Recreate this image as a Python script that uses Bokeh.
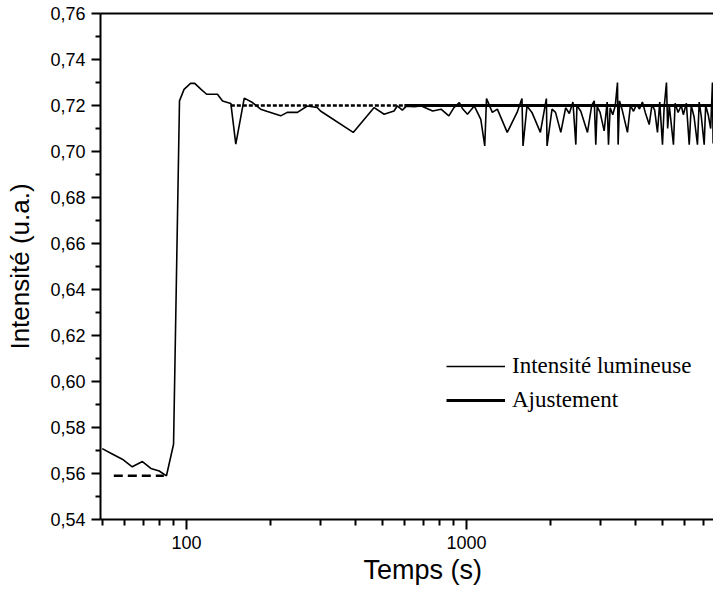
from bokeh.plotting import figure
from bokeh.models import (FixedTicker, CustomJSTickFormatter, LogAxis, Legend,
                          LegendItem, Range1d, Title)
from bokeh.embed import file_html
from bokeh.resources import INLINE

# ---- data ----
time_s = [50, 54.5, 59, 64, 69.6, 74.6, 79.9, 84.8, 89.9, 94.4, 98, 103.6, 107,
          112.5, 118, 129, 134.5, 144, 150, 160.8, 172, 184, 194.6, 217, 229,
          249, 270, 293, 301, 394, 468, 508, 551, 566, 590, 610, 650, 690, 757,
          811, 865, 902, 943, 967, 1008, 1066, 1125, 1162, 1179, 1237, 1289,
          1398, 1516, 1578, 1592, 1645, 1713, 1836, 1929, 1940, 2021, 2080,
          2172, 2260, 2330, 2400, 2458, 2480, 2560, 2705, 2800, 2860, 2896,
          2930, 3000, 3103, 3180, 3215, 3260, 3330, 3400, 3462, 3480, 3520,
          3600, 3758, 3850, 3950, 4050, 4150, 4250, 4350, 4494, 4600, 4700,
          4810, 4900, 5012, 5080, 5179, 5230, 5300, 5485, 5560, 5700, 5850,
          5950, 6100, 6245, 6350, 6500, 6683, 6780, 6900, 7063, 7150, 7300,
          7450, 7560, 7600]
intensity = [0.5708, 0.5684, 0.5662, 0.5629, 0.5652, 0.5622, 0.5611, 0.5590,
             0.5727, 0.7220, 0.7270, 0.7297, 0.7296, 0.7271, 0.7249, 0.7249,
             0.7220, 0.7209, 0.7032, 0.7232, 0.7213, 0.7184, 0.7174, 0.7155,
             0.7170, 0.7170, 0.7198, 0.7191, 0.7176, 0.7083, 0.7191, 0.7162,
             0.7176, 0.7198, 0.7180, 0.7197, 0.7195, 0.7198, 0.7176, 0.7184,
             0.7155, 0.7191, 0.7213, 0.7187, 0.7162, 0.7198, 0.7140, 0.7024,
             0.7230, 0.7170, 0.7184, 0.7083, 0.7170, 0.7230, 0.7024, 0.7198,
             0.7170, 0.7083, 0.7230, 0.7024, 0.7184, 0.7170, 0.7083, 0.7190,
             0.7165, 0.7215, 0.7030, 0.7200, 0.7175, 0.7083, 0.7200, 0.7220,
             0.7030, 0.7195, 0.7170, 0.7090, 0.7215, 0.7030, 0.7190, 0.7160,
             0.7200, 0.7300, 0.7030, 0.7220, 0.7180, 0.7083, 0.7200, 0.7175,
             0.7205, 0.7185, 0.7215, 0.7170, 0.7117, 0.7205, 0.7180, 0.7083,
             0.7215, 0.7030, 0.7190, 0.7300, 0.7100, 0.7200, 0.7030, 0.7210,
             0.7170, 0.7200, 0.7160, 0.7210, 0.7030, 0.7200, 0.7150, 0.7030,
             0.7215, 0.7150, 0.7030, 0.7200, 0.7160, 0.7100, 0.7300, 0.7035]

fit_low_t = [55, 83]
fit_low_v = [0.559, 0.559]
fit_dot_t = [144, 600]
fit_dot_v = [0.720, 0.720]
fit_high_t = [600, 7625]
fit_high_v = [0.720, 0.720]

x_major = [100, 1000]
x_minor = [50, 60, 70, 80, 90, 200, 300, 400, 500, 600, 700, 800, 900,
           2000, 3000, 4000, 5000, 6000, 7000]
y_major = [0.54, 0.56, 0.58, 0.60, 0.62, 0.64, 0.66, 0.68, 0.70, 0.72, 0.74, 0.76]
y_minor = [0.55, 0.57, 0.59, 0.61, 0.63, 0.65, 0.67, 0.69, 0.71, 0.73, 0.75]

legend_labels = ["Intensité lumineuse", "Ajustement"]
x_title = "Temps (s)"
y_title = "Intensité (u.a.)"

SANS = "Liberation Sans"
SERIF = "Liberation Serif"

p = figure(width=713, height=590, x_axis_type="log",
           x_range=Range1d(49.3, 7625), y_range=Range1d(0.54, 0.76),
           output_backend="svg", toolbar_location=None,
           min_border_left=100, min_border_right=0, min_border_top=13,
           min_border_bottom=71)
p.outline_line_color = None
p.grid.visible = False
p.background_fill_color = "white"
p.border_fill_color = "white"

r_data = p.line(time_s, intensity, line_color="black", line_width=1.6)
p.line(fit_low_t, fit_low_v, line_color="black", line_width=2.6, line_dash="9 5")
p.line(fit_dot_t, fit_dot_v, line_color="black", line_width=2.4, line_dash="4 2")
r_fit = p.line(fit_high_t, fit_high_v, line_color="black", line_width=2.8)

# x axis
xa = p.xaxis[0]
xa.ticker = FixedTicker(ticks=x_major, minor_ticks=x_minor)
xa.formatter = CustomJSTickFormatter(code="return String(Math.round(tick));")
# y axis
ya = p.yaxis[0]
ya.ticker = FixedTicker(ticks=y_major, minor_ticks=y_minor)
ya.formatter = CustomJSTickFormatter(code="return tick.toFixed(2).replace('.', ',');")
ya.axis_label = y_title

for ax, mj, mn in ((xa, 10, 6), (ya, 9, 5)):
    ax.axis_line_width = 2
    ax.axis_line_color = "black"
    ax.major_tick_in = 0
    ax.major_tick_out = mj
    ax.minor_tick_in = 0
    ax.minor_tick_out = mn
    ax.major_tick_line_width = 2
    ax.minor_tick_line_width = 2
    ax.major_tick_line_color = "black"
    ax.minor_tick_line_color = "black"
    ax.major_label_text_font = SANS
    ax.major_label_text_font_size = "18px"
    ax.major_label_text_color = "black"
    ax.axis_label_text_font = SANS
    ax.axis_label_text_font_size = "26px"
    ax.axis_label_text_font_style = "normal"
    ax.axis_label_text_color = "black"

xa.major_label_standoff = 6
ya.major_label_standoff = 6
ya.axis_label_standoff = 12

# x axis title, placed as in the reference
p.add_layout(Title(text=x_title, align="left", offset=263, standoff=2,
                   text_font=SANS, text_font_size="27px",
                   text_font_style="normal", text_color="black"), "below")

# top frame line
top = LogAxis(ticker=FixedTicker(ticks=[]), axis_line_width=2,
              axis_line_color="black", major_tick_out=0, minor_tick_out=0,
              major_tick_in=0, minor_tick_in=0, major_label_standoff=0,
              major_label_text_font_size="0px")
p.add_layout(top, "above")

legend = Legend(items=[LegendItem(label=legend_labels[0], renderers=[r_data]),
                       LegendItem(label=legend_labels[1], renderers=[r_fit])],
                location=(346, 104), glyph_width=59, glyph_height=30,
                label_height=30, label_standoff=7, spacing=4, padding=0,
                margin=0, border_line_color=None, background_fill_alpha=0,
                label_text_font=SERIF, label_text_font_size="23px",
                label_text_color="black")
p.add_layout(legend, "center")

open("out.html", "w").write(file_html(p, INLINE))
